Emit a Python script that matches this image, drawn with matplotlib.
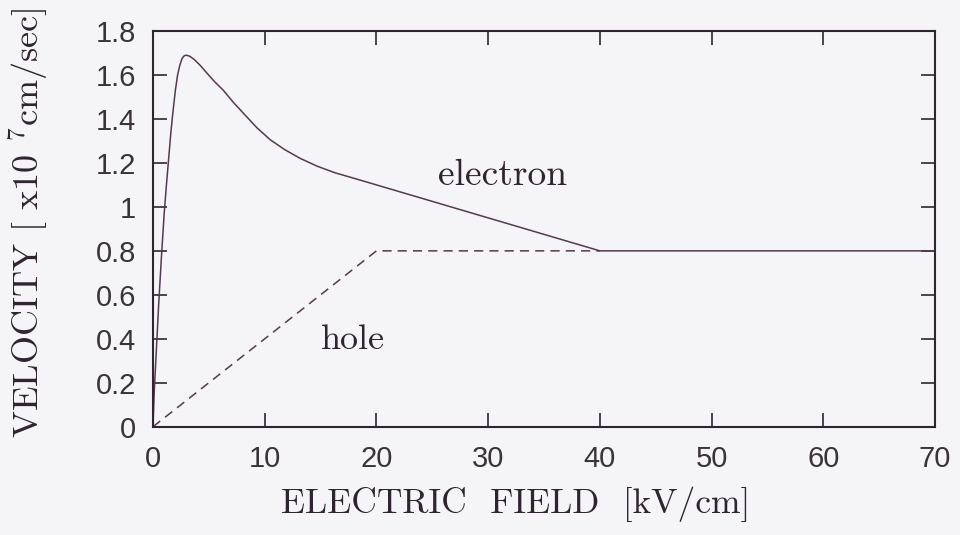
import numpy as np
import matplotlib.pyplot as plt

# drift velocity vs. electric field (x10^7 cm/sec vs kV/cm)
field_e = [0, 0.1, 0.3, 0.5, 0.75, 1.0, 1.2, 1.4, 1.6, 1.8, 2.0, 2.2, 2.4, 2.6, 2.8,
           3.0, 3.3, 3.7, 4.2, 4.8, 5.5, 6.3, 7.2, 8.2, 9.3, 10.5, 11.8, 13.2,
           14.7, 16.3, 18.0, 20.0, 40.0, 70.0]
vel_e = [0, 0.15, 0.35, 0.55, 0.77, 0.97, 1.10, 1.22, 1.34, 1.44, 1.53, 1.60, 1.645, 1.675, 1.688,
         1.69, 1.685, 1.67, 1.645, 1.61, 1.57, 1.53, 1.475, 1.42, 1.36, 1.305, 1.26, 1.22,
         1.185, 1.155, 1.13, 1.10, 0.80, 0.80]

field_h = [0, 20, 40]
vel_h = [0, 0.80, 0.80]

xticks = [0, 10, 20, 30, 40, 50, 60, 70]
yticks = [0, 0.2, 0.4, 0.6, 0.8, 1.0, 1.2, 1.4, 1.6, 1.8]
ytick_labels = ['0', '0.2', '0.4', '0.6', '0.8', '1', '1.2', '1.4', '1.6', '1.8']

plt.rcParams['mathtext.fontset'] = 'cm'
ink = '#2f2530'
line_col = '#533a50'
serif = 'cmr10'

fig = plt.figure(figsize=(9.6, 5.35), dpi=100, facecolor='#f5f5f7')
ax = fig.add_axes([0.1594, 0.2024, 0.8146, 0.7396])
ax.set_facecolor('#f5f5f7')

ax.plot(field_h, vel_h, color=line_col, linewidth=1.1, dashes=(6, 4))
ax.plot(field_e, vel_e, color=line_col, linewidth=1.1)

ax.set_xlim(0, 70)
ax.set_ylim(0, 1.8)
ax.set_xticks(xticks)
ax.set_xticklabels([str(t) for t in xticks])
ax.set_yticks(yticks)
ax.set_yticklabels(ytick_labels)

for s in ax.spines.values():
    s.set_color(ink)
    s.set_linewidth(1.5)
ax.tick_params(direction='in', length=10, width=1.2, color=ink,
               top=True, right=True, labelsize=21, labelcolor='#3a3338')
ax.tick_params(axis='x', pad=13)
ax.tick_params(axis='y', pad=12)
for lab in ax.get_xticklabels() + ax.get_yticklabels():
    lab.set_family('Liberation Sans')

ax.text(25.5, 1.10, 'electron', fontname=serif, fontsize=27, color=ink,
        ha='left', va='baseline')
ax.text(15.0, 0.355, 'hole', fontname=serif, fontsize=26, color=ink,
        ha='left', va='baseline')

fig.text(516 / 960, 1 - 513 / 535, r'ELECTRIC  FIELD  [kV/cm]', fontname=serif,
         fontsize=25.5, color=ink, ha='center', va='baseline')
fig.text(29 / 960, 1 - 223 / 535, r'VELOCITY [ x10 $^{7}$cm/sec]', fontname=serif,
         fontsize=26, color=ink, ha='center', va='center', rotation=90)

fig.savefig('out.png', dpi=100, facecolor=fig.get_facecolor())
